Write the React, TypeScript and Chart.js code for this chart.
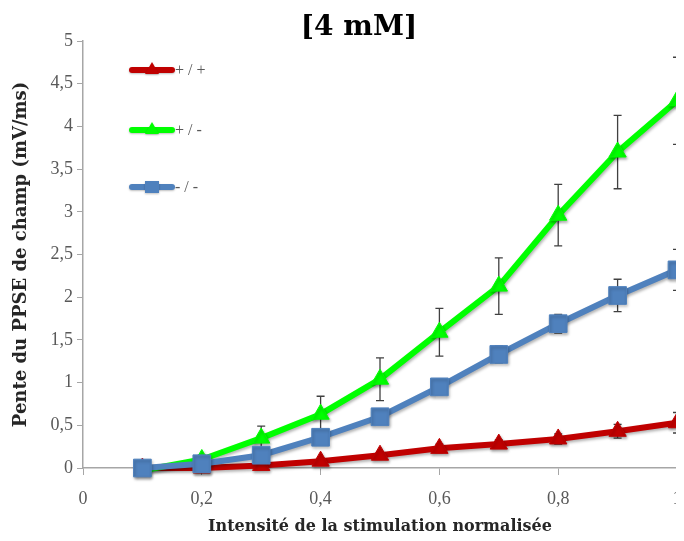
import React, { useEffect, useRef } from 'react';
import { Chart, registerables } from 'chart.js';
Chart.register(...registerables);

const titleText = '[4 mM]';
const xTitle = 'Intensité de la stimulation normalisée';
const yTitle = 'Pente du PPSE de champ (mV/ms)';

const xValues = [0.1, 0.2, 0.3, 0.4, 0.5, 0.6, 0.7, 0.8, 0.9, 1.0];
const wtLabel = '+ / +';
const hetLabel = '+ / -';
const koLabel = '- / -';
const wtValues = [0, 0, 0.03, 0.08, 0.15, 0.23, 0.28, 0.34, 0.43, 0.53];
const hetValues = [-0.03, 0.1, 0.35, 0.63, 1.04, 1.59, 2.13, 2.96, 3.7, 4.3];
const koValues = [0, 0.05, 0.15, 0.36, 0.6, 0.95, 1.33, 1.69, 2.02, 2.32];
const wtErrors = [0, 0.02, 0.02, 0.03, 0.04, 0.05, 0.05, 0.06, 0.08, 0.12];
const hetErrors = [0.02, 0.05, 0.14, 0.21, 0.25, 0.28, 0.33, 0.36, 0.43, 0.51];
const koErrors = [0.02, 0.03, 0.05, 0.07, 0.08, 0.09, 0.1, 0.11, 0.19, 0.24];

const RED = '#c00000';
const GREEN = '#00ff00';
const BLUE = '#4f81bd';
const TICK_COLOR = '#595959';
const AXIS_COLOR = '#a6a6a6';

const fmt = (v: number) => String(Math.round(v * 10) / 10).replace('.', ',');

const errorBarPlugin = {
  id: 'errorBars',
  beforeDatasetsDraw(chart: any) {
    const ctx = chart.ctx;
    const xs = chart.scales.x;
    const ys = chart.scales.y;
    ctx.save();
    ctx.strokeStyle = '#404040';
    ctx.lineWidth = 1.3;
    chart.data.datasets.forEach((ds: any) => {
      const errs: number[] = ds.errors || [];
      ds.data.forEach((p: any, i: number) => {
        const e = errs[i];
        if (!e) return;
        const px = xs.getPixelForValue(p.x);
        const top = ys.getPixelForValue(p.y + e);
        const bot = ys.getPixelForValue(p.y - e);
        ctx.beginPath();
        ctx.moveTo(px, top);
        ctx.lineTo(px, bot);
        ctx.moveTo(px - 4, top);
        ctx.lineTo(px + 4, top);
        ctx.moveTo(px - 4, bot);
        ctx.lineTo(px + 4, bot);
        ctx.stroke();
      });
    });
    ctx.restore();
  },
};

const shadowPlugin = {
  id: 'shadow',
  beforeDatasetDraw(chart: any) {
    const ctx = chart.ctx;
    ctx.save();
    ctx.shadowColor = 'rgba(0,0,0,0.3)';
    ctx.shadowBlur = 3;
    ctx.shadowOffsetX = 1;
    ctx.shadowOffsetY = 2;
  },
  afterDatasetDraw(chart: any) {
    chart.ctx.restore();
  },
};

const customLegendPlugin = {
  id: 'customLegend',
  afterDraw(chart: any) {
    const ctx = chart.ctx;
    const area = chart.chartArea;
    const entries = [
      { ds: chart.data.datasets[0], dy: 29 },
      { ds: chart.data.datasets[1], dy: 89 },
      { ds: chart.data.datasets[2], dy: 146 },
    ];
    ctx.save();
    entries.forEach(({ ds, dy }) => {
      const y = area.top + dy;
      const x0 = area.left + 49;
      const x1 = area.left + 89;
      ctx.save();
      ctx.shadowColor = 'rgba(0,0,0,0.25)';
      ctx.shadowBlur = 2;
      ctx.shadowOffsetY = 1;
      ctx.strokeStyle = ds.borderColor;
      ctx.lineWidth = 6;
      ctx.lineCap = 'round';
      ctx.beginPath();
      ctx.moveTo(x0, y);
      ctx.lineTo(x1, y);
      ctx.stroke();
      ctx.fillStyle = ds.borderColor;
      const cx = (x0 + x1) / 2;
      if (ds.pointStyle === 'rect') {
        ctx.fillRect(cx - 7, y - 6, 14, 12);
      } else {
        ctx.beginPath();
        ctx.moveTo(cx, y - 8);
        ctx.lineTo(cx + 7, y + 4);
        ctx.lineTo(cx - 7, y + 4);
        ctx.closePath();
        ctx.fill();
      }
      ctx.restore();
      ctx.fillStyle = TICK_COLOR;
      ctx.font = '16px "Liberation Serif"';
      ctx.textBaseline = 'middle';
      ctx.textAlign = 'left';
      ctx.fillText(ds.label, x1 + 3, y + 1);
    });
    ctx.restore();
  },
};

const titlePlugin = {
  id: 'customTitle',
  afterDraw(chart: any) {
    const ctx = chart.ctx;
    ctx.save();
    ctx.fillStyle = '#000000';
    ctx.font = 'bold 28px "DejaVu Serif"';
    ctx.textAlign = 'center';
    ctx.textBaseline = 'middle';
    ctx.fillText(titleText, 351, 20);
    ctx.restore();
  },
};

export default function App() {
  const ref = useRef<HTMLCanvasElement | null>(null);
  useEffect(() => {
    if (!ref.current) return;
    const mk = (vals: number[]) => vals.map((y, i) => ({ x: xValues[i], y }));
    const common = { borderWidth: 6, pointBorderWidth: 1, clip: false };
    const chart = new Chart(ref.current, {
      type: 'line',
      data: {
        datasets: [
          {
            ...common,
            label: wtLabel,
            data: mk(wtValues),
            errors: wtErrors,
            borderColor: RED,
            backgroundColor: RED,
            pointStyle: 'triangle',
            pointRadius: 10,
            order: 2,
          } as any,
          {
            ...common,
            label: hetLabel,
            data: mk(hetValues),
            errors: hetErrors,
            borderColor: GREEN,
            backgroundColor: GREEN,
            pointStyle: 'triangle',
            pointRadius: 10,
            order: 1,
          } as any,
          {
            ...common,
            label: koLabel,
            data: mk(koValues),
            errors: koErrors,
            borderColor: BLUE,
            backgroundColor: BLUE,
            pointStyle: 'rect',
            pointRadius: 12.5,
            order: 0,
          } as any,
        ],
      },
      options: {
        animation: false,
        responsive: true,
        maintainAspectRatio: false,
        layout: { padding: { top: 33, right: 21, left: 0, bottom: 0 } },
        plugins: {
          legend: { display: false },
          title: { display: false },
          tooltip: { enabled: false },
        },
        scales: {
          x: {
            type: 'linear',
            min: 0,
            max: 1,
            afterFit: (s: any) => { s.height = 68; },
            ticks: {
              stepSize: 0.2,
              callback: (v: any) => fmt(Number(v)),
              color: TICK_COLOR,
              font: { family: '"Liberation Serif"', size: 18 },
              padding: 13,
              maxRotation: 0,
            },
            grid: { drawOnChartArea: false, drawTicks: true, tickLength: 7, color: AXIS_COLOR },
            border: { display: true, color: AXIS_COLOR, width: 1.5 },
            title: {
              display: true,
              text: xTitle,
              color: '#262626',
              font: { family: '"DejaVu Serif"', size: 16, weight: 'bold' },
              padding: { top: 0, bottom: 0 },
            },
          },
          y: {
            type: 'linear',
            min: 0,
            max: 5,
            afterFit: (s: any) => { s.width = 75; },
            ticks: {
              stepSize: 0.5,
              callback: (v: any) => fmt(Number(v)),
              color: TICK_COLOR,
              font: { family: '"Liberation Serif"', size: 18 },
              padding: 4,
            },
            grid: { drawOnChartArea: false, drawTicks: true, tickLength: 6, color: AXIS_COLOR },
            border: { display: true, color: AXIS_COLOR, width: 1.5 },
            title: {
              display: true,
              text: yTitle,
              color: '#262626',
              font: { family: '"DejaVu Serif"', size: 18, weight: 'bold' },
              padding: { top: 3, bottom: 0 },
            },
          },
        },
      } as any,
      plugins: [errorBarPlugin, shadowPlugin, customLegendPlugin, titlePlugin],
    });
    return () => chart.destroy();
  }, []);
  return (
    <div style={{ width: 676, height: 528, overflow: 'hidden', position: 'relative' }}>
      <div style={{ width: 690, height: 528 }}>
        <canvas ref={ref} />
      </div>
    </div>
  );
}
